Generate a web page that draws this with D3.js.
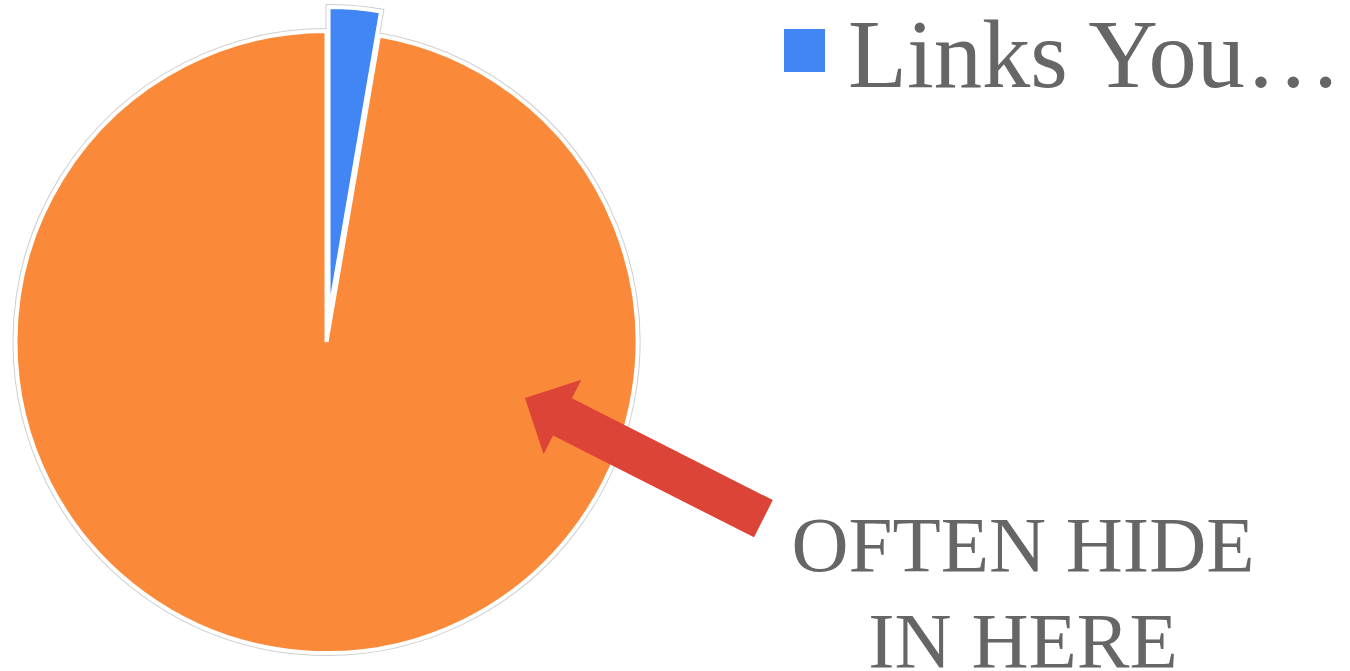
<!DOCTYPE html>
<html>
<head>
<meta charset="utf-8">
<script src="https://cdn.jsdelivr.net/npm/d3@7/dist/d3.min.js"></script>
<style>
  html, body { margin: 0; padding: 0; background: #fff; }
  svg { display: block; }
</style>
</head>
<body>
<svg id="chart" width="1350" height="671"></svg>
<script>
// ---- data ----
const categories = ["Links You Need", "Everything Else"];
const values = [2.7, 97.3];
const colors = ["#4285f4", "#fa8a3a"];
const offsets = [24, 0];
const legendLabels = ["Links You…"];
const annotationLines = ["OFTEN HIDE", "IN HERE"];

// ---- layout ----
const W = 1350, H = 671;
const cx = 326.5, cy = 342, R = 311;
const svg = d3.select("#chart");

const pie = d3.pie().sort(null).value(d => d.value);
const arcs = pie(categories.map((c, i) => ({ name: c, value: values[i], color: colors[i], offset: offsets[i] })));
const arc = d3.arc().innerRadius(0).outerRadius(R);

const g = svg.append("g").attr("transform", `translate(${cx},${cy})`);

function shift(d) {
  const a = (d.startAngle + d.endAngle) / 2;
  const o = d.data.offset;
  return `translate(${o * Math.sin(a)},${-o * Math.cos(a)})`;
}

// faint grey outline under each slice
g.selectAll("path.shadow").data(arcs).join("path")
  .attr("class", "shadow")
  .attr("d", arc)
  .attr("transform", shift)
  .attr("fill", "none")
  .attr("stroke", "#cfcfcf")
  .attr("stroke-width", 6);

g.selectAll("path.slice").data(arcs).join("path")
  .attr("class", "slice")
  .attr("d", arc)
  .attr("transform", shift)
  .attr("fill", d => d.data.color)
  .attr("stroke", "#ffffff")
  .attr("stroke-width", 4);

// ---- legend ----
const lg = svg.append("g");
legendLabels.forEach((t, i) => {
  lg.append("rect")
    .attr("x", 784).attr("y", 29 + i * 100)
    .attr("width", 41).attr("height", 43)
    .attr("fill", colors[i]);
  lg.append("text")
    .attr("x", 848).attr("y", 87 + i * 100)
    .attr("font-family", "'Liberation Serif', 'Times New Roman', serif")
    .attr("font-size", 96.5)
    .attr("fill", "#666666")
    .text(t);
});

// ---- annotation arrow ----
const tail = [763.4, 518.7], tip = [525, 398];
const shaftW = 41.7, headW = 83.6, headL = 42;
const dx = tip[0] - tail[0], dy = tip[1] - tail[1];
const L = Math.hypot(dx, dy);
const ux = dx / L, uy = dy / L, px = -uy, py = ux;
const base = [tip[0] - ux * headL, tip[1] - uy * headL];
const pts = [
  [tail[0] + px * shaftW / 2, tail[1] + py * shaftW / 2],
  [base[0] + px * shaftW / 2, base[1] + py * shaftW / 2],
  [base[0] + px * headW / 2, base[1] + py * headW / 2],
  tip,
  [base[0] - px * headW / 2, base[1] - py * headW / 2],
  [base[0] - px * shaftW / 2, base[1] - py * shaftW / 2],
  [tail[0] - px * shaftW / 2, tail[1] - py * shaftW / 2]
];
svg.append("path")
  .attr("d", d3.line()(pts) + "Z")
  .attr("fill", "#db4437");

const at = svg.append("text")
  .attr("font-family", "'Liberation Serif', 'Times New Roman', serif")
  .attr("font-size", 79)
  .attr("fill", "#666666")
  .attr("text-anchor", "middle");
annotationLines.forEach((t, i) => {
  at.append("tspan").attr("x", 1023).attr("y", 571 + i * 96).text(t);
});
</script>
</body>
</html>
